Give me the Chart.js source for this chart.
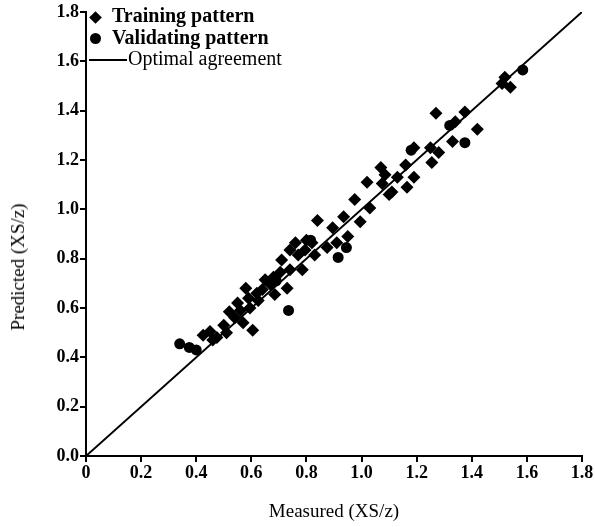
<!DOCTYPE html>
<html>
<head>
<meta charset="utf-8">
<script src="https://cdn.jsdelivr.net/npm/chart.js@4"></script>
<style>
  body { margin: 0; background: #fff; }
  #wrap { position: relative; width: 595px; height: 527px; }
  #legend { position: absolute; left: 86px; top: 5px; font-family: "Liberation Serif", serif; font-size: 20px; color: #000; }
  #legend div { height: 21.5px; line-height: 21.5px; white-space: nowrap; }
  .mk { display: inline-block; vertical-align: middle; margin-right: 8px; }
  .dia { width: 9px; height: 9px; background: #000; transform: rotate(45deg); margin-left: 5px; margin-right: 12px; }
  .dot { width: 11px; height: 11px; background: #000; border-radius: 50%; margin-left: 4px; margin-right: 11px; }
  .ln { width: 38px; height: 0; border-top: 2px solid #000; margin-left: 3px; margin-right: 1px; }
  #ytitle { position: absolute; left: 18px; top: 267px; transform: translate(-50%, -50%) rotate(-90deg);
    font-family: "Liberation Serif", serif; font-size: 19px; color: #000; white-space: nowrap; }
</style>
</head>
<body>
<div id="wrap">
  <canvas id="chart" width="595" height="527"></canvas>
  <div id="legend">
    <div style="font-weight:bold"><span class="mk dia"></span>Training pattern</div>
    <div style="font-weight:bold"><span class="mk dot"></span>Validating pattern</div>
    <div><span class="mk ln"></span>Optimal agreement</div>
  </div>
  <div id="ytitle">Predicted (XS/z)</div>
</div>
<script>
'use strict';

// Training pattern (measured, predicted)
const trainMeasured = [1.52, 1.54, 1.51, 1.42, 1.375, 1.27, 1.34, 1.33, 1.25, 1.28, 1.19, 1.255, 1.16, 1.13, 1.19, 1.165, 1.11,
  1.07, 1.085, 1.075, 1.02, 1.10, 0.975, 1.03, 0.935, 0.995, 0.84, 0.895, 0.95, 0.80, 0.875, 0.76, 0.82, 0.795, 0.71, 0.785,
  0.68, 0.73, 0.58, 0.62, 0.685, 0.55, 0.59, 0.52, 0.605, 0.57, 0.50, 0.425, 0.45, 0.475, 0.51, 0.46,
  0.65, 0.67, 0.705, 0.74, 0.64, 0.595, 0.625, 0.54, 0.56, 0.74, 0.77, 0.83, 0.91];
const trainPredicted = [1.535, 1.495, 1.51, 1.325, 1.395, 1.39, 1.355, 1.275, 1.25, 1.23, 1.25, 1.19, 1.18, 1.13, 1.13, 1.09, 1.07,
  1.17, 1.14, 1.105, 1.11, 1.06, 1.04, 1.005, 0.97, 0.95, 0.955, 0.925, 0.89, 0.875, 0.845, 0.865, 0.865, 0.835, 0.795, 0.755,
  0.725, 0.68, 0.68, 0.66, 0.655, 0.62, 0.64, 0.585, 0.51, 0.54, 0.53, 0.49, 0.505, 0.48, 0.50, 0.47,
  0.715, 0.695, 0.745, 0.755, 0.675, 0.60, 0.63, 0.56, 0.59, 0.835, 0.815, 0.815, 0.865];

// Validating pattern (measured, predicted)
const validMeasured = [1.585, 1.375, 1.32, 1.18, 0.915, 0.945, 0.815, 0.735, 0.34, 0.375, 0.40, 0.69];
const validPredicted = [1.565, 1.27, 1.34, 1.24, 0.805, 0.845, 0.875, 0.59, 0.455, 0.44, 0.43, 0.71];

// Optimal agreement line end points
const lineX = [0, 1.8];

const axisTicks = [0, 0.2, 0.4, 0.6, 0.8, 1.0, 1.2, 1.4, 1.6, 1.8];

function toPoints(xs, ys) {
  return xs.map((x, i) => ({ x: x, y: ys[i] }));
}

const tickFont = { family: 'Liberation Serif', size: 18, weight: 'bold' };
const titleFont = { family: 'Liberation Serif', size: 19 };

function axis(title, isX) {
  return {
    type: 'linear',
    min: 0,
    max: 1.8,
    afterBuildTicks: s => { s.ticks = axisTicks.map(v => ({ value: v })); },
    afterFit: s => { if (isX) s.height = 71; else s.width = 86; },
    ticks: {
      color: '#000',
      font: tickFont,
      padding: 1,
      callback: v => (isX && v === 0) ? '0' : v.toFixed(1)
    },
    grid: { display: true, drawOnChartArea: false, drawTicks: true, tickLength: 6, color: '#000', lineWidth: 2 },
    border: { display: true, color: '#000', width: 2 },
    // y title is drawn as an html label so it can sit off-centre like the original
    title: { display: isX, text: title, color: '#000', font: titleFont, padding: { top: 18 } }
  };
}

new Chart(document.getElementById('chart').getContext('2d'), {
  type: 'scatter',
  data: {
    datasets: [
      {
        label: 'Optimal agreement',
        type: 'line',
        data: toPoints(lineX, lineX),
        borderColor: '#000',
        borderWidth: 2,
        pointRadius: 0,
        fill: false
      },
      {
        label: 'Training pattern',
        data: toPoints(trainMeasured, trainPredicted),
        pointStyle: 'rectRot',
        pointRadius: 6.5,
        backgroundColor: '#000',
        borderColor: '#000',
        borderWidth: 0
      },
      {
        label: 'Validating pattern',
        data: toPoints(validMeasured, validPredicted),
        pointStyle: 'circle',
        pointRadius: 5.5,
        backgroundColor: '#000',
        borderColor: '#000',
        borderWidth: 0
      }
    ]
  },
  options: {
    responsive: false,
    animation: false,
    layout: { padding: { top: 12, right: 13, left: 0, bottom: 0 } },
    plugins: { legend: { display: false }, tooltip: { enabled: false } },
    scales: {
      x: axis('Measured (XS/z)', true),
      y: axis('Predicted (XS/z)', false)
    }
  }
});
</script>
</body>
</html>
